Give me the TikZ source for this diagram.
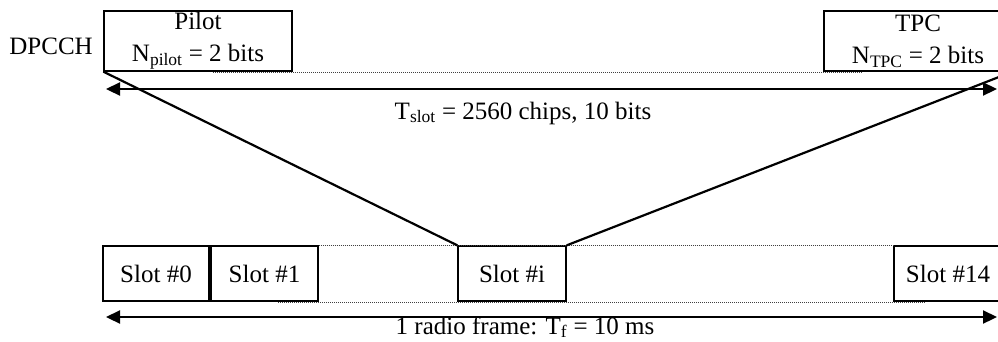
\documentclass[tikz,border=0pt]{standalone}
\usepackage{fontspec}
\setmainfont{Liberation Serif}
\usetikzlibrary{arrows.meta}
\begin{document}
\begin{tikzpicture}[x=1pt,y=-1pt,
  every node/.style={font=\fontsize{25}{32}\selectfont, inner sep=0pt},
  box/.style={draw, line width=1.3pt, align=center},
  slotbox/.style={box, minimum width=106pt, minimum height=55pt},
  fieldbox/.style={box, minimum width=188pt, minimum height=60pt},
  guide/.style={line width=0.8pt, black!75, dash pattern=on 1pt off 1pt},
  span/.style={line width=2.2pt, {Triangle[length=14pt,width=13pt]}-{Triangle[length=14pt,width=13pt]}},
  link/.style={line width=2.2pt}]
\useasboundingbox (0,0) rectangle (998,341);
\clip (0,0) rectangle (998,341);

% DPCCH slot fields
\node[anchor=base east] (dpcch) at (93,54) {DPCCH};
\node[fieldbox] (pilot) at (198,41) {Pilot\\N\textsubscript{pilot} = 2 bits};
\node[fieldbox] (tpc) at (918,41) {TPC\\N\textsubscript{TPC} = 2 bits};

% slot span
\coordinate (g1) at (213,72);
\coordinate (g2) at (863,72);
\draw[guide] (g1) -- (g2);
\coordinate (sl) at (106,89);
\coordinate (sr) at (997,89);
\draw[span] (sl) -- (sr);
\node[anchor=base] (tslot) at (523,119) {T\textsubscript{slot} = 2560 chips, 10 bits};

% radio frame slots
\node[slotbox] (s0) at (156,273.5) {Slot \#0};
\node[slotbox, minimum width=107pt] (s1) at (264.5,273.5) {Slot \#1};
\node[slotbox, minimum width=108pt] (si) at (512,273.5) {Slot \#i};
\node[slotbox, minimum width=108pt] (s14) at (948,273.5) {Slot \#14};

\draw[guide] (s1.north east) -- (s14.north west);
\coordinate (b1) at (278,302);
\coordinate (b2) at (925,302);
\draw[guide] (b1) -- (b2);

% zoom lines from slot #i to the slot fields
\draw[link] (pilot.south west) -- (si.north west);
\draw[link] (tpc.south east) -- (si.north east);

% frame span
\coordinate (fl) at (106,317);
\coordinate (fr) at (997,317);
\draw[span] (fl) -- (fr);
\node[anchor=base] (tframe) at (525,334) {1 radio frame: T\textsubscript{f} = 10 ms};
\end{tikzpicture}
\end{document}
